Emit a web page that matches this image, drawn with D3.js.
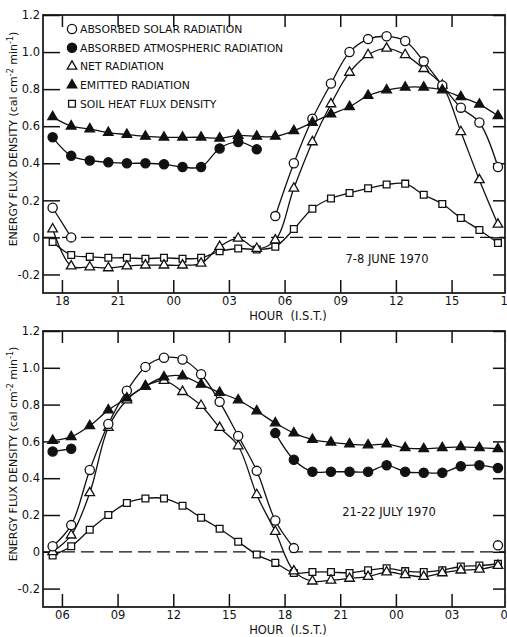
<!DOCTYPE html>
<html>
<head>
<meta charset="utf-8">
<script src="https://cdn.jsdelivr.net/npm/d3@7"></script>
<style>
  body {margin: 0; background: #fff;}
  text {font-family: "DejaVu Sans", sans-serif; fill: #111;}
  .cadre {fill: none; stroke: #111; stroke-width: 1.7px;}
  .tick line {stroke: #111; stroke-width: 1.5px;}
  .domain {display: none;}
  .courbe {fill: none; stroke: #111; stroke-width: 1.3px;}
  .zero {stroke: #111; stroke-width: 1.3px; stroke-dasharray: 13,6;}
</style>
</head>
<body>
<svg width="507" height="637"></svg>
<script>
// heures (mi-heures) des mesures
const heuresJuin = [17.5, 18.5, 19.5, 20.5, 21.5, 22.5, 23.5, 24.5, 25.5, 26.5, 27.5, 28.5,
  29.5, 30.5, 31.5, 32.5, 33.5, 34.5, 35.5, 36.5, 37.5, 38.5, 39.5, 40.5, 41.5];
const heuresJuillet = [5.5, 6.5, 7.5, 8.5, 9.5, 10.5, 11.5, 12.5, 13.5, 14.5, 15.5, 16.5,
  17.5, 18.5, 19.5, 20.5, 21.5, 22.5, 23.5, 24.5, 25.5, 26.5, 27.5, 28.5, 29.5];

// 7-8 juin 1970
const solaireJuin = [0.16, 0.0, null, null, null, null, null, null, null, null, null, null,
  0.115, 0.40, 0.64, 0.83, 1.0, 1.07, 1.085, 1.06, 0.95, 0.82, 0.70, 0.62, 0.38];
const atmosJuin = [0.54, 0.44, 0.415, 0.405, 0.40, 0.40, 0.395, 0.38, 0.38, 0.48, 0.515, 0.475,
  null, null, null, null, null, null, null, null, null, null, null, null, null];
const netJuin = [0.045, -0.155, -0.16, -0.165, -0.155, -0.15, -0.15, -0.15, -0.14, -0.05, -0.005, -0.06,
  -0.015, 0.265, 0.515, 0.72, 0.89, 0.985, 1.02, 0.985, 0.91, 0.82, 0.57, 0.31, 0.07];
const emisJuin = [0.65, 0.60, 0.585, 0.565, 0.555, 0.545, 0.54, 0.54, 0.54, 0.535, 0.55, 0.545,
  0.545, 0.575, 0.62, 0.665, 0.705, 0.765, 0.795, 0.81, 0.81, 0.795, 0.758, 0.718, 0.656];
const solJuin = [-0.025, -0.095, -0.105, -0.11, -0.11, -0.115, -0.11, -0.115, -0.11, -0.075, -0.06, -0.065,
  -0.05, 0.045, 0.155, 0.21, 0.24, 0.265, 0.285, 0.29, 0.23, 0.18, 0.105, 0.04, -0.03];

// 21-22 juillet 1970
const solaireJuillet = [0.03, 0.145, 0.445, 0.695, 0.875, 1.005, 1.055, 1.045, 0.965, 0.815, 0.63, 0.44,
  0.17, 0.02, null, null, null, null, null, null, null, null, null, null, 0.035];
const atmosJuillet = [0.545, 0.56, null, null, null, null, null, null, null, null, null, null,
  0.645, 0.50, 0.435, 0.435, 0.435, 0.435, 0.47, 0.435, 0.43, 0.43, 0.465, 0.47, 0.455];
const netJuillet = [0.0, 0.09, 0.32, 0.675, 0.825, 0.90, 0.93, 0.87, 0.795, 0.675, 0.575, 0.31,
  0.11, -0.105, -0.16, -0.155, -0.145, -0.135, -0.11, -0.125, -0.135, -0.115, -0.10, -0.095, -0.075];
const emisJuillet = [0.605, 0.625, 0.685, 0.77, 0.835, 0.90, 0.95, 0.955, 0.91, 0.865, 0.825, 0.765,
  0.70, 0.645, 0.61, 0.595, 0.585, 0.58, 0.585, 0.565, 0.56, 0.565, 0.57, 0.565, 0.56];
const solJuillet = [-0.02, 0.03, 0.12, 0.20, 0.265, 0.29, 0.29, 0.25, 0.185, 0.125, 0.055, -0.015,
  -0.06, -0.115, -0.11, -0.11, -0.115, -0.10, -0.09, -0.105, -0.11, -0.10, -0.08, -0.075, -0.065];

const ticksJuin = [18, 21, 24, 27, 30, 33, 36, 39, 42];
const ticksJuillet = [6, 9, 12, 15, 18, 21, 24, 27, 30];
const ticksY = [-0.2, 0, 0.2, 0.4, 0.6, 0.8, 1.0, 1.2];
const labelsY = ["-0.2", "0", "0.2", "0.4", "0.6", "0.8", "1.0", "1.2"];

const legende = ["ABSORBED SOLAR RADIATION", "ABSORBED ATMOSPHERIC RADIATION",
  "NET RADIATION", "EMITTED RADIATION", "SOIL HEAT FLUX DENSITY"];
const symboles = ["rondVide", "rondPlein", "triVide", "triPlein", "carre"];

const svg = d3.select("svg");

function symbole(g, type, x, y) {
  if (type == "rondVide" || type == "rondPlein") {
    g.append("circle")
      .attr("cx", x).attr("cy", y).attr("r", 4.6)
      .style("fill", type == "rondPlein" ? "#111" : "#fff")
      .style("stroke", "#111").style("stroke-width", 1.3);
  } else {
    let forme = type == "carre" ? d3.symbolSquare : d3.symbolTriangle;
    let taille = type == "carre" ? 46 : 40;
    g.append("path")
      .attr("d", d3.symbol(forme, taille)())
      .attr("transform", "translate(" + x + "," + y + ")")
      .style("fill", type == "triPlein" ? "#111" : "#fff")
      .style("stroke", "#111").style("stroke-width", 1.3);
  }
}

function panneau(haut, bas, debut, heures, series, ticksX, titre, titreY) {
  // debut = heure au bord gauche du cadre
  let x = d3.scaleLinear().domain([debut, debut + 24.9]).range([43, 505]);
  let y = d3.scaleLinear().domain([-0.3, 1.2]).range([bas, haut]);
  let g = svg.append("g");

  let fmtX = function (h) { return d3.format("02d")(h % 24); };
  let fmtY = function (v) { return labelsY[ticksY.indexOf(v)]; };

  g.append("g").attr("transform", "translate(0," + bas + ")")
    .call(d3.axisBottom(x).tickValues(ticksX).tickSize(-13).tickPadding(4).tickFormat(fmtX))
    .selectAll("text").style("font-size", "11.5px");
  g.append("g").attr("transform", "translate(0," + haut + ")")
    .call(d3.axisTop(x).tickValues(ticksX).tickSize(-12).tickFormat(""));
  g.append("g").attr("transform", "translate(43,0)")
    .call(d3.axisLeft(y).tickValues(ticksY).tickSize(-17).tickPadding(3).tickFormat(fmtY))
    .selectAll("text").style("font-size", "11.5px");
  g.append("g").attr("transform", "translate(505,0)")
    .call(d3.axisRight(y).tickValues(ticksY).tickSize(-12).tickFormat(""));

  g.append("rect").classed("cadre", true)
    .attr("x", 43).attr("y", haut).attr("width", 462).attr("height", bas - haut);

  g.append("line").classed("zero", true)
    .attr("x1", 43).attr("x2", 505).attr("y1", y(0)).attr("y2", y(0));

  let ligne = d3.line()
    .defined(function (d) { return d[1] !== null; })
    .x(function (d) { return x(d[0]); })
    .y(function (d) { return y(d[1]); })
    .curve(d3.curveCatmullRom.alpha(0.5));

  // ordre de dessin : sol, net, solaire, emis, atmos
  [4, 2, 0, 3, 1].forEach(function (k) {
    let pts = heures.map(function (h, i) { return [h, series[k][i]]; });
    g.append("path").classed("courbe", true).attr("d", ligne(pts));
    pts.forEach(function (p) {
      if (p[1] !== null) symbole(g, symboles[k], x(p[0]), y(p[1]));
    });
  });

  g.append("text").text("HOUR  (I.S.T.)")
    .attr("x", 288).attr("y", bas + 27).style("text-anchor", "middle").style("font-size", "11.5px")
    .attr("xml:space", "preserve");

  g.append("text").text(titre)
    .attr("x", titreY.x).attr("y", titreY.y).style("text-anchor", "middle").style("font-size", "11.5px");

  let ty = g.append("text")
    .attr("transform", "translate(17," + ((haut + bas) / 2 - 15) + ") rotate(-90)")
    .style("text-anchor", "middle").style("font-size", "11px");
  ty.append("tspan").text("ENERGY FLUX DENSITY (cal cm");
  ty.append("tspan").text("-2").attr("dy", -4).style("font-size", "8px");
  ty.append("tspan").text(" min").attr("dy", 4);
  ty.append("tspan").text("-1").attr("dy", -4).style("font-size", "8px");
  ty.append("tspan").text(")").attr("dy", 4);
}

panneau(15, 293, 16.98, heuresJuin, [solaireJuin, atmosJuin, netJuin, emisJuin, solJuin],
  ticksJuin, "7-8 JUNE 1970", {x: 387, y: 263});
panneau(331, 607, 4.98, heuresJuillet, [solaireJuillet, atmosJuillet, netJuillet, emisJuillet, solJuillet],
  ticksJuillet, "21-22 JULY 1970", {x: 389, y: 516});

// légende
let leg = svg.append("g");
legende.forEach(function (t, i) {
  let yy = 29 + i * 18.7;
  symbole(leg, symboles[i], 72, yy);
  leg.append("text").text(t).attr("x", 80).attr("y", yy + 4).style("font-size", "10.8px");
});
</script>
</body>
</html>
